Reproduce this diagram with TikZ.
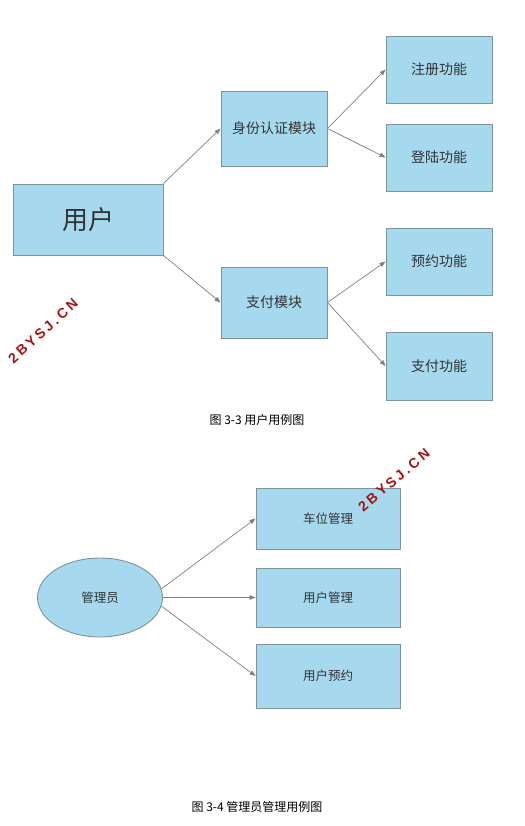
\documentclass[tikz,border=0pt]{standalone}
\usepackage{fontspec}
\newfontfamily\cjk{Noto Sans CJK SC}
\newfontfamily\wmfont[LetterSpace=20]{Liberation Sans}
\usetikzlibrary{arrows.meta,shapes.geometric}
\definecolor{boxblue}{RGB}{166,217,238}
\definecolor{boxline}{RGB}{125,145,160}
\definecolor{arrowgray}{RGB}{128,128,128}
\definecolor{wmred}{RGB}{170,18,18}

\begin{document}
\begin{tikzpicture}[x=1pt,y=-1pt,
  funcbox/.style={rectangle,draw=boxline,fill=boxblue,line width=0.9pt,inner sep=0pt,text=black!80,
    minimum width=106pt,minimum height=67pt,font=\cjk\fontsize{14}{16}\selectfont},
  adminbox/.style={funcbox,minimum width=144pt,minimum height=61pt,font=\cjk\fontsize{12.5}{14}\selectfont},
  link/.style={draw=arrowgray,line width=0.7pt,-{Triangle[length=6pt,width=4.5pt]}},
  caption/.style={font=\cjk\fontsize{12}{14}\selectfont},
  watermark/.style={text=wmred,font=\wmfont\bfseries\fontsize{14}{16}\selectfont}]
\useasboundingbox (0,0) rectangle (524,826);

% 图 3-3
\node[funcbox,minimum width=150pt,minimum height=71pt,font=\cjk\fontsize{26}{30}\selectfont] (user) at (88,219.5) {用户};
\node[funcbox,minimum height=75pt] (auth) at (274,128.5) {身份认证模块};
\node[funcbox,minimum height=71pt] (pay) at (274,302.5) {支付模块};
\node[funcbox] (reg) at (439,69.5) {注册功能};
\node[funcbox] (login) at (439,157.5) {登陆功能};
\node[funcbox] (book) at (439,261.5) {预约功能};
\node[funcbox,minimum height=68pt] (payf) at (439,366) {支付功能};
\draw[link] (user.north east) -- (auth.west);
\draw[link] (user.south east) -- (pay.west);
\draw[link] (auth.east) -- (reg.west);
\draw[link] (auth.east) -- (login.west);
\draw[link] (pay.east) -- (book.west);
\draw[link] (pay.east) -- (payf.west);
\node[caption] (cap1) at (257,420) {图 3-3 用户用例图};

% 图 3-4
\node[ellipse,draw=boxline,fill=boxblue,line width=0.9pt,inner sep=0pt,minimum width=125pt,minimum height=79pt,
  text=black!80,font=\cjk\fontsize{12.5}{14}\selectfont] (admin) at (100,597.5) {管理员};
\node[adminbox] (park) at (328,518.5) {车位管理};
\node[adminbox,minimum height=59pt] (umgr) at (328,597.5) {用户管理};
\node[adminbox,minimum height=64pt] (ubook) at (328,676) {用户预约};
\draw[link] (admin.8) -- (park.west);
\draw[link] (admin.east) -- (umgr.west);
\draw[link] (admin.-8) -- (ubook.west);
\node[caption] (cap2) at (257,807) {图 3-4 管理员管理用例图};

% watermarks
\node[watermark,rotate=42] (wm1) at (43,331) {2BYSJ.CN};
\node[watermark,rotate=40] (wm2) at (394,480) {2BYSJ.CN};
\end{tikzpicture}
\end{document}
